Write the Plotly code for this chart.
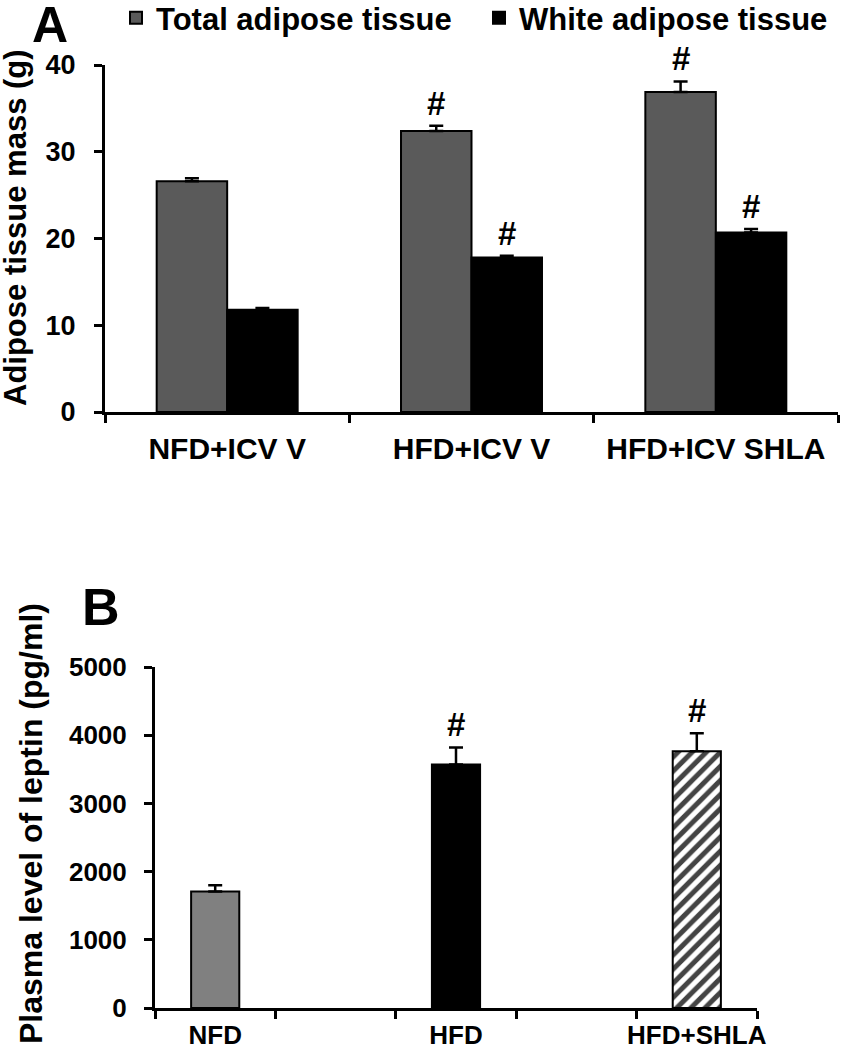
import plotly.graph_objects as go

# ---------------- Data ----------------
groups_a = ["NFD+ICV V", "HFD+ICV V", "HFD+ICV SHLA"]
total_mass = [26.6, 32.4, 36.9]
total_err = [0.35, 0.6, 1.2]
white_mass = [11.8, 17.8, 20.7]
white_err = [0.2, 0.2, 0.4]
total_sig = ["", "#", "#"]
white_sig = ["", "#", "#"]

groups_b = ["NFD", "HFD", "HFD+SHLA"]
leptin = [1710, 3570, 3765]
leptin_err = [90, 250, 265]
leptin_sig = ["", "#", "#"]
pos_b = [0, 2, 4]

yticks_a = [0, 10, 20, 30, 40]
yticks_b = [0, 1000, 2000, 3000, 4000, 5000]

# ---------------- Styling ----------------
W, H = 841, 1050
FONT = "Liberation Sans, Arial, sans-serif"
BLACK = "#000000"
GRAY_A = "#5a5a5a"
GRAY_B = "#808080"


def px_x(p):
    return p / W


def px_y(p):
    return 1 - p / H


fig = go.Figure()

err_style = dict(type="data", symmetric=False, color=BLACK, thickness=2.5, width=7)

fig.add_trace(go.Bar(
    x=groups_a, y=total_mass, name="Total adipose tissue",
    marker=dict(color=GRAY_A, line=dict(color=BLACK, width=2)),
    error_y=dict(array=total_err, arrayminus=[0] * len(total_err), **err_style),
    xaxis="x", yaxis="y",
))
fig.add_trace(go.Bar(
    x=groups_a, y=white_mass, name="White adipose tissue",
    marker=dict(color=BLACK, line=dict(color=BLACK, width=2)),
    error_y=dict(array=white_err, arrayminus=[0] * len(white_err), **err_style),
    xaxis="x", yaxis="y",
))
fig.add_trace(go.Bar(
    x=pos_b, y=leptin, width=[0.4] * len(pos_b), showlegend=False,
    marker=dict(
        color=[GRAY_B, BLACK, "white"],
        line=dict(color=BLACK, width=2),
        pattern=dict(shape=["", "", "/"], fgcolor=BLACK, fgopacity=1,
                     size=10, solidity=0.5, fillmode="overlay"),
    ),
    error_y=dict(array=leptin_err, arrayminus=[0] * len(leptin_err), **err_style),
    xaxis="x2", yaxis="y2",
))

annotations = []
sig_font = dict(family=FONT, size=33, color=BLACK, weight="bold")
# significance marks, panel A (grouped bars: offset of each series within group)
n_groups = len(groups_a)
group_w = 1 - 0.423
for i in range(n_groups):
    for k, (vals, errs, sig) in enumerate([(total_mass, total_err, total_sig),
                                            (white_mass, white_err, white_sig)]):
        if sig[i]:
            xoff = (k - 0.5) * group_w / 2
            annotations.append(dict(
                x=i + xoff, y=vals[i] + errs[i], xref="x", yref="y",
                text=sig[i], showarrow=False, yanchor="bottom", yshift=2,
                font=sig_font,
            ))
for i, sig in enumerate(leptin_sig):
    if sig:
        annotations.append(dict(
            x=pos_b[i], y=leptin[i] + leptin_err[i], xref="x2", yref="y2",
            text=sig, showarrow=False, yanchor="bottom", yshift=2,
            font=sig_font,
        ))

# panel letters
annotations.append(dict(x=px_x(30), y=px_y(-5), xref="paper", yref="paper", text="A",
                        showarrow=False, xanchor="left", yanchor="top",
                        font=dict(family=FONT, size=50, color=BLACK, weight="bold")))
annotations.append(dict(x=px_x(80), y=px_y(576), xref="paper", yref="paper", text="B",
                        showarrow=False, xanchor="left", yanchor="top",
                        font=dict(family=FONT, size=52, color=BLACK, weight="bold")))
# y axis titles
annotations.append(dict(x=px_x(16), y=px_y(228), xref="paper", yref="paper",
                        text="Adipose tissue mass (g)", textangle=-90, showarrow=False,
                        xanchor="center", yanchor="middle",
                        font=dict(family=FONT, size=31, color=BLACK, weight="bold")))
annotations.append(dict(x=px_x(31), y=px_y(824), xref="paper", yref="paper",
                        text="Plasma level of leptin (pg/ml)", textangle=-90, showarrow=False,
                        xanchor="center", yanchor="middle",
                        font=dict(family=FONT, size=32, color=BLACK, weight="bold")))

axis_common = dict(showline=True, linecolor=BLACK, linewidth=3, showgrid=False,
                   zeroline=False, automargin=False)

fig.update_layout(
    width=W, height=H,
    margin=dict(l=0, r=0, t=0, b=0, autoexpand=False),
    paper_bgcolor="white", plot_bgcolor="white",
    barmode="group", bargap=0.423, bargroupgap=0,
    font=dict(family=FONT, color=BLACK),
    showlegend=True,
    legend=dict(orientation="h", x=px_x(116), y=px_y(-9), xanchor="left", yanchor="top",
                font=dict(family=FONT, size=31, color=BLACK, weight="bold"),
                entrywidth=318, entrywidthmode="pixels",
                bgcolor="rgba(0,0,0,0)", itemsizing="constant"),
    xaxis=dict(domain=[px_x(105), px_x(838)], anchor="y", type="category",
               tickson="boundaries", ticks="outside", ticklen=8, tickwidth=3,
               tickcolor=BLACK, ticklabelstandoff=8,
               tickfont=dict(family=FONT, size=30, color=BLACK, weight="bold"),
               **axis_common),
    yaxis=dict(domain=[px_y(412), px_y(65)], anchor="x", range=[0, 40],
               tickvals=yticks_a, ticks="outside", ticklen=8, tickwidth=3,
               tickcolor=BLACK, ticklabelstandoff=13,
               tickfont=dict(family=FONT, size=27, color=BLACK, weight="bold"),
               **axis_common),
    xaxis2=dict(domain=[px_x(155), px_x(757)], anchor="y2", range=[-0.5, 4.5],
                tickvals=pos_b, ticktext=groups_b, ticks="", ticklabelstandoff=2,
                tickfont=dict(family=FONT, size=26, color=BLACK, weight="bold"),
                minor=dict(tick0=-0.5, dtick=1, ticks="outside", ticklen=8,
                           tickwidth=3, tickcolor=BLACK, showgrid=False),
                **axis_common),
    yaxis2=dict(domain=[px_y(1008), px_y(667)], anchor="x2", range=[0, 5000],
                tickvals=yticks_b, ticks="outside", ticklen=8, tickwidth=3,
                tickcolor=BLACK, ticklabelstandoff=12,
                tickfont=dict(family=FONT, size=26, color=BLACK, weight="bold"),
                **axis_common),
    annotations=annotations,
)

fig.write_html("out.html", config={"displayModeBar": False},
               post_script="document.body.style.margin='0px';")
